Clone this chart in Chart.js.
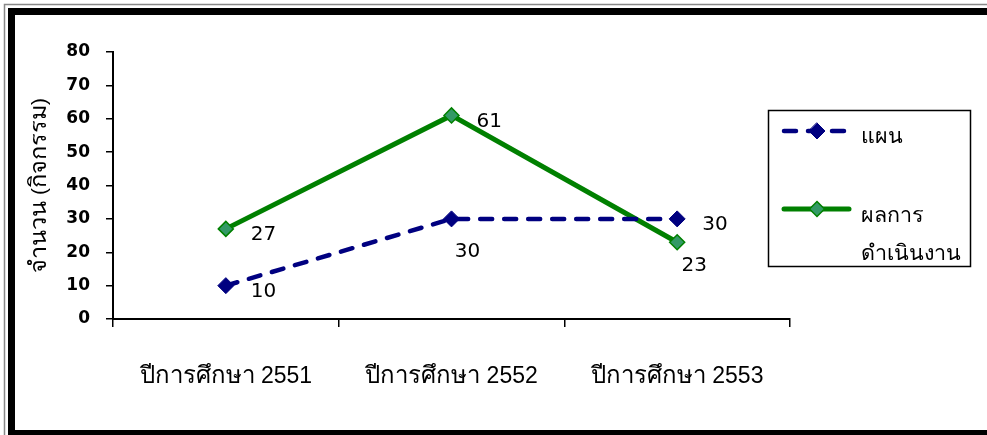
<!DOCTYPE html>
<html>
<head>
<meta charset="utf-8">
<script src="https://cdn.jsdelivr.net/npm/chart.js@4/dist/chart.umd.min.js"></script>
<style>
  html, body { margin: 0; padding: 0; background: #fff; }
  #wrap { width: 987px; height: 435px; position: relative; }
</style>
</head>
<body>
<div id="wrap"><canvas id="myChart" width="987" height="435"></canvas></div>
<script>
// ข้อมูล
var categories = ['ปีการศึกษา 2551', 'ปีการศึกษา 2552', 'ปีการศึกษา 2553'];
var planValues = [10, 30, 30];
var resultValues = [27, 61, 23];
var seriesNames = ['แผน', 'ผลการดำเนินงาน'];
var legendLines = [['แผน'], ['ผลการ', 'ดำเนินงาน']];
var yTitle = 'จำนวน (กิจกรรม)';
var yMin = 0, yMax = 80, yStep = 10;

// ตำแหน่งป้ายตัวเลข (style only)
var planLabelPos = ['right', 'below', 'right'];
var resultLabelPos = ['right', 'right', 'belowNear'];

var thaiFamily = 'sans-serif';
var latinFamily = '"Liberation Sans", Arial, sans-serif';

var labelOffsets = {
    right: { dx: 25, dy: 6, align: 'left' },
    below: { dx: 16, dy: 33, align: 'center' },
    belowNear: { dx: 17, dy: 24, align: 'center' }
};

// เขียนข้อความไทยปนตัวเลข
function drawMixed(ctx, text, x, y, thaiSize, latinSize, align) {
    var parts = text.split(/([\u0E00-\u0E7F]+)/).filter(function (s) { return s.length; });
    var fonts = parts.map(function (p) {
        return /[\u0E00-\u0E7F]/.test(p) ? thaiSize + 'px ' + thaiFamily : latinSize + 'px ' + latinFamily;
    });
    var widths = parts.map(function (p, i) { ctx.font = fonts[i]; return ctx.measureText(p).width; });
    var total = widths.reduce(function (a, b) { return a + b; }, 0);
    var cx = align === 'center' ? x - total / 2 : x;
    ctx.textAlign = 'left';
    ctx.textBaseline = 'alphabetic';
    parts.forEach(function (p, i) {
        ctx.font = fonts[i];
        ctx.fillText(p, cx, y);
        cx += widths[i];
    });
}

// กรอบรูป
const framePlugin = {
    id: 'frame',
    beforeDraw(chart) {
        const ctx = chart.ctx;
        ctx.save();
        ctx.fillStyle = '#fff';
        ctx.fillRect(0, 0, chart.width, chart.height);
        ctx.strokeStyle = '#888';
        ctx.lineWidth = 1.5;
        ctx.strokeRect(4.5, 4.5, 1000, 1000);
        ctx.fillStyle = '#000';
        ctx.fillRect(8, 8, 1000, 7);
        ctx.fillRect(8, 8, 7, 1000);
        ctx.fillRect(8, 430, 1000, 10);
        ctx.restore();
    }
};

// ป้ายแกน x และชื่อแกน y
const axisText = {
    id: 'axisText',
    afterDraw(chart) {
        const ctx = chart.ctx;
        const xs = chart.scales.x;
        ctx.save();
        ctx.fillStyle = '#000';
        chart.data.labels.forEach((lab, i) => {
            drawMixed(ctx, lab, xs.getPixelForValue(i), 383, 24, 23, 'center');
        });
        ctx.translate(46, (chart.chartArea.top + chart.chartArea.bottom) / 2);
        ctx.rotate(-Math.PI / 2);
        drawMixed(ctx, yTitle, 0, 0, 23.5, 21, 'center');
        ctx.restore();
    }
};

// ป้ายค่าข้อมูล
const valueLabels = {
    id: 'valueLabels',
    afterDatasetsDraw(chart) {
        const ctx = chart.ctx;
        ctx.save();
        ctx.font = '20px "DejaVu Sans", sans-serif';
        ctx.fillStyle = '#000';
        ctx.textBaseline = 'middle';
        chart.data.datasets.forEach((ds, i) => {
            const meta = chart.getDatasetMeta(i);
            meta.data.forEach((pt, j) => {
                const o = labelOffsets[ds.labelPos[j]];
                ctx.textAlign = o.align;
                ctx.fillText(String(ds.data[j]), pt.x + o.dx, pt.y + o.dy);
            });
        });
        ctx.restore();
    }
};

// คำอธิบายสัญลักษณ์
const boxLegend = {
    id: 'boxLegend',
    afterDraw(chart) {
        const ctx = chart.ctx;
        ctx.save();
        ctx.strokeStyle = '#000';
        ctx.lineWidth = 1.5;
        ctx.strokeRect(768.5, 110.5, 202, 156);
        const rows = [131, 209];
        const base = [[143], [222, 260]];
        chart.data.datasets.forEach((ds, i) => {
            const y = rows[i];
            ctx.beginPath();
            ctx.strokeStyle = ds.borderColor;
            ctx.lineWidth = ds.borderWidth;
            ctx.lineCap = 'round';
            ctx.setLineDash(ds.borderDash || []);
            ctx.moveTo(784, y);
            ctx.lineTo(849, y);
            ctx.stroke();
            ctx.setLineDash([]);
            const r = ds.pointRadius;
            ctx.beginPath();
            ctx.moveTo(817, y - r);
            ctx.lineTo(817 + r, y);
            ctx.lineTo(817, y + r);
            ctx.lineTo(817 - r, y);
            ctx.closePath();
            ctx.fillStyle = ds.pointBackgroundColor;
            ctx.fill();
            ctx.lineWidth = ds.pointBorderWidth;
            ctx.strokeStyle = ds.pointBorderColor;
            ctx.stroke();
            ctx.fillStyle = '#000';
            legendLines[i].forEach((t, k) => {
                drawMixed(ctx, t, 861, base[i][k], 21.5, 20, 'left');
            });
        });
        ctx.restore();
    }
};

const data = {
    labels: categories,
    datasets: [{
        label: seriesNames[0],
        data: planValues,
        labelPos: planLabelPos,
        borderColor: '#000080',
        backgroundColor: '#000080',
        borderWidth: 4.5,
        borderDash: [12, 12],
        borderCapStyle: 'round',
        pointStyle: 'rectRot',
        pointRadius: 8,
        pointBackgroundColor: '#000080',
        pointBorderColor: '#000080',
        pointBorderWidth: 1,
        tension: 0
    }, {
        label: seriesNames[1],
        data: resultValues,
        labelPos: resultLabelPos,
        borderColor: '#008000',
        backgroundColor: '#339966',
        borderWidth: 5,
        pointStyle: 'rectRot',
        pointRadius: 7.5,
        pointBackgroundColor: '#339966',
        pointBorderColor: '#008000',
        pointBorderWidth: 1.5,
        tension: 0
    }]
};

const config = {
    type: 'line',
    data: data,
    plugins: [framePlugin, valueLabels, axisText, boxLegend],
    options: {
        responsive: false,
        animation: false,
        layout: { padding: { top: 52, right: 197, left: 0, bottom: 0 } },
        plugins: {
            legend: { display: false },
            tooltip: { enabled: false }
        },
        scales: {
            x: {
                offset: true,
                afterFit: (s) => { s.height = 116; },
                grid: {
                    offset: true,
                    drawOnChartArea: false,
                    drawTicks: true,
                    tickLength: 8,
                    color: '#000',
                    lineWidth: 1.5
                },
                border: { display: true, color: '#000', width: 2 },
                ticks: { display: false }
            },
            y: {
                min: yMin,
                max: yMax,
                afterFit: (s) => { s.width = 113; },
                grid: {
                    drawOnChartArea: false,
                    drawTicks: true,
                    tickLength: 7,
                    color: '#000',
                    lineWidth: 1.5
                },
                border: { display: true, color: '#000', width: 2 },
                ticks: {
                    stepSize: yStep,
                    color: '#000',
                    padding: 16,
                    font: { family: '"DejaVu Sans", sans-serif', size: 17, weight: 'bold' }
                }
            }
        }
    }
};

const myChart = new Chart(document.getElementById('myChart'), config);
</script>
</body>
</html>
